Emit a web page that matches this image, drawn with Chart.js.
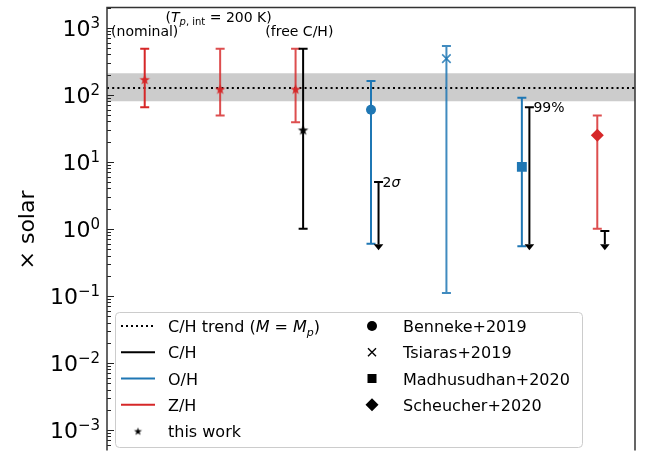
<!DOCTYPE html>
<html>
<head>
<meta charset="utf-8">
<script src="https://cdn.jsdelivr.net/npm/chart.js@4.4.0/dist/chart.umd.min.js"></script>
<style>
    html, body { margin: 0; padding: 0; background: #fff; overflow: hidden; }
</style>
</head>
<body>
<canvas id="chart" width="648" height="456"></canvas>
<script>
// ============= DATA =============
const xMin = 0, xMax = 7;
const yMin = 5.3e-4, yMax = 2000;
const yTickExponents = [-3, -2, -1, 0, 1, 2, 3];

// C/H trend for M = Mp, with its spread
const trendCH = 126;
const trendLo = 80;
const trendHi = 210;

// this work, Z/H: nominal, Tp,int = 200 K, free C/H
const workZX = [0.5, 1.5, 2.5];
const workZ = [170, 122, 122];
const workZLo = [65, 49, 39];
const workZHi = [485, 485, 485];

// this work, C/H (free C/H)
const workCX = [2.6];
const workC = [30];
const workCLo = [1];
const workCHi = [485];

// O/H: Benneke+2019, Tsiaras+2019, Madhusudhan+2020
const litOX = [3.5, 4.5, 5.5];
const litO = [60, 347, 8.4];
const litOLo = [0.6, 0.11, 0.55];
const litOHi = [160, 535, 90];

// Z/H: Scheucher+2020
const litZX = [6.5];
const litZ = [25];
const litZLo = [1];
const litZHi = [49];

// C/H upper limits: Benneke+2019, Madhusudhan+2020, Scheucher+2020
const limCX = [3.6, 5.6, 6.6];
const limCTop = [5, 65, 0.93];
const limCEnd = [0.55, 0.55, 0.55];
const limCLabels = ['2σ', '99%', ''];

// ============= STYLE =============
const BLACK = '#000000';
const BLUE = '#1f77b4';
const RED = '#d62728';
const RED_SOFT = 'rgba(214, 39, 40, 0.82)';
const BLUE_SOFT = 'rgba(31, 119, 180, 0.85)';
const FAM = '"DejaVu Sans", sans-serif';

function font(size, italic) {
    return (italic ? 'italic ' : '') + size + 'px ' + FAM;
}

function starImage(color, r) {
    const c = document.createElement('canvas');
    const s = Math.ceil(r * 2 + 2);
    c.width = s;
    c.height = s;
    const g = c.getContext('2d');
    g.fillStyle = color;
    g.beginPath();
    for (let i = 0; i < 10; i++) {
        const rr = i % 2 ? r * 0.4 : r;
        const a = -Math.PI / 2 + i * Math.PI / 5;
        g.lineTo(s / 2 + rr * Math.cos(a), s / 2 + 0.6 + rr * Math.sin(a));
    }
    g.closePath();
    g.fill();
    return c;
}

const starRed = starImage(RED, 5.5);
const starBlack = starImage(BLACK, 5.5);
const starLegend = starImage(BLACK, 4.2);

const pts = (xs, ys) => xs.map((x, i) => ({ x: x, y: ys[i] }));

// ============= TEXT HELPERS =============
function runsWidth(ctx, runs) {
    let w = 0;
    runs.forEach(r => { ctx.font = r.f; w += ctx.measureText(r.t).width; });
    return w;
}

function drawRuns(ctx, runs, x, y, align) {
    const w = runsWidth(ctx, runs);
    let cx = align === 'center' ? x - w / 2 : align === 'right' ? x - w : x;
    ctx.textAlign = 'left';
    ctx.textBaseline = 'alphabetic';
    runs.forEach(r => {
        ctx.font = r.f;
        ctx.fillText(r.t, cx, y + (r.dy || 0));
        cx += ctx.measureText(r.t).width;
    });
}

// ============= ERROR BARS =============
function errorBar(ctx, sx, sy, x, lo, hi, color) {
    const px = sx.getPixelForValue(x);
    const pLo = sy.getPixelForValue(lo);
    const pHi = sy.getPixelForValue(hi);
    ctx.strokeStyle = color;
    ctx.lineWidth = 2;
    ctx.beginPath();
    ctx.moveTo(px, pLo);
    ctx.lineTo(px, pHi);
    ctx.moveTo(px - 4.5, pLo);
    ctx.lineTo(px + 4.5, pLo);
    ctx.moveTo(px - 4.5, pHi);
    ctx.lineTo(px + 4.5, pHi);
    ctx.stroke();
}

function upperLimit(ctx, sx, sy, x, top, end, color) {
    const px = sx.getPixelForValue(x);
    const pTop = sy.getPixelForValue(top);
    const pEnd = sy.getPixelForValue(end);
    ctx.strokeStyle = color;
    ctx.fillStyle = color;
    ctx.lineWidth = 2;
    ctx.beginPath();
    ctx.moveTo(px - 4.5, pTop);
    ctx.lineTo(px + 4.5, pTop);
    ctx.moveTo(px, pTop);
    ctx.lineTo(px, pEnd - 2);
    ctx.stroke();
    ctx.beginPath();
    ctx.moveTo(px - 4.8, pEnd - 2);
    ctx.lineTo(px + 4.8, pEnd - 2);
    ctx.lineTo(px, pEnd + 4);
    ctx.closePath();
    ctx.fill();
}

const errorBarPlugin = {
    id: 'errorBars',
    afterDatasetDraw(chart, args) {
        if (args.index !== 1) return;
        const ctx = chart.ctx;
        const sx = chart.scales.x;
        const sy = chart.scales.y;
        ctx.save();
        workZX.forEach((x, i) => errorBar(ctx, sx, sy, x, workZLo[i], workZHi[i], i === 0 ? RED : RED_SOFT));
        workCX.forEach((x, i) => errorBar(ctx, sx, sy, x, workCLo[i], workCHi[i], BLACK));
        litOX.forEach((x, i) => errorBar(ctx, sx, sy, x, litOLo[i], litOHi[i], i === 1 ? BLUE_SOFT : BLUE));
        litZX.forEach((x, i) => errorBar(ctx, sx, sy, x, litZLo[i], litZHi[i], RED_SOFT));
        limCX.forEach((x, i) => upperLimit(ctx, sx, sy, x, limCTop[i], limCEnd[i], BLACK));
        ctx.restore();
    }
};

// ============= FRAME, TICKS, TEXT, LEGEND =============
function legendMarker(ctx, kind, x, y) {
    ctx.fillStyle = BLACK;
    ctx.strokeStyle = BLACK;
    ctx.beginPath();
    if (kind === 'circle') {
        ctx.arc(x, y, 5, 0, Math.PI * 2);
        ctx.fill();
    } else if (kind === 'cross') {
        ctx.lineWidth = 1.4;
        ctx.moveTo(x - 4, y - 4); ctx.lineTo(x + 4, y + 4);
        ctx.moveTo(x - 4, y + 4); ctx.lineTo(x + 4, y - 4);
        ctx.stroke();
    } else if (kind === 'square') {
        ctx.fillRect(x - 4.5, y - 4.5, 9, 9);
    } else if (kind === 'diamond') {
        ctx.moveTo(x, y - 6.5); ctx.lineTo(x + 6.5, y);
        ctx.lineTo(x, y + 6.5); ctx.lineTo(x - 6.5, y);
        ctx.closePath();
        ctx.fill();
    }
}

const decorPlugin = {
    id: 'decor',
    afterDraw(chart) {
        const ctx = chart.ctx;
        const a = chart.chartArea;
        const sx = chart.scales.x;
        const sy = chart.scales.y;
        ctx.save();

        // inward y ticks
        ctx.strokeStyle = '#222';
        ctx.lineWidth = 1;
        ctx.beginPath();
        for (let e = -4; e <= 3; e++) {
            for (let k = 1; k <= 9; k++) {
                const v = k * Math.pow(10, e);
                if (v < yMin || v > yMax) continue;
                const py = Math.round(sy.getPixelForValue(v)) + 0.5;
                ctx.moveTo(a.left, py);
                ctx.lineTo(a.left + (k === 1 ? 7 : 4), py);
            }
        }
        ctx.stroke();

        // frame (bottom is outside the picture)
        ctx.strokeStyle = '#333';
        ctx.lineWidth = 1.5;
        ctx.beginPath();
        ctx.moveTo(a.left, a.bottom + 2);
        ctx.lineTo(a.left, a.top);
        ctx.lineTo(a.right, a.top);
        ctx.lineTo(a.right, a.bottom + 2);
        ctx.stroke();

        // tick labels
        ctx.fillStyle = BLACK;
        yTickExponents.forEach(e => {
            const py = sy.getPixelForValue(Math.pow(10, e));
            const exp = e < 0 ? '\u2212' + (-e) : String(e);
            drawRuns(ctx, [
                { t: '10', f: font(22) },
                { t: exp, f: font(15), dy: -7.5 }
            ], 100, py + 8, 'right');
        });

        // axis label
        ctx.save();
        ctx.translate(34, 230);
        ctx.rotate(-Math.PI / 2);
        ctx.font = font(22);
        ctx.textAlign = 'center';
        ctx.textBaseline = 'alphabetic';
        ctx.fillText('\u00d7 solar', 0, 0);
        ctx.restore();

        // annotations above the points
        const f14 = font(14);
        drawRuns(ctx, [{ t: '(nominal)', f: f14 }], sx.getPixelForValue(0.5), 36, 'center');
        drawRuns(ctx, [
            { t: '(', f: f14 },
            { t: 'T', f: font(14, true) },
            { t: 'p', f: font(10, true), dy: 3 },
            { t: ', int', f: font(10), dy: 3 },
            { t: ' = 200 K)', f: f14 }
        ], sx.getPixelForValue(1.48), 22, 'center');
        drawRuns(ctx, [{ t: '(free C/H)', f: f14 }], sx.getPixelForValue(2.55), 36, 'center');

        // limit labels
        limCX.forEach((x, i) => {
            if (!limCLabels[i]) return;
            const px = sx.getPixelForValue(x) + 4;
            const py = sy.getPixelForValue(limCTop[i]) + 5;
            const label = limCLabels[i];
            const runs = label === '2σ'
                ? [{ t: '2', f: f14 }, { t: 'σ', f: font(14, true) }]
                : [{ t: label, f: f14 }];
            drawRuns(ctx, runs, px, py, 'left');
        });

        // legend
        const lx = 115, ly = 312, lw = 467, lh = 135;
        ctx.fillStyle = 'rgba(255,255,255,0.85)';
        ctx.strokeStyle = '#cccccc';
        ctx.lineWidth = 1;
        ctx.beginPath();
        ctx.roundRect(lx + 0.5, ly + 0.5, lw, lh, 4);
        ctx.fill();
        ctx.stroke();

        const rowY = i => 326 + i * 26.25;
        const f16 = font(16);
        const handle = (y, color, dash) => {
            ctx.save();
            ctx.strokeStyle = color;
            ctx.lineWidth = 2;
            ctx.setLineDash(dash || []);
            ctx.beginPath();
            ctx.moveTo(121, y);
            ctx.lineTo(155, y);
            ctx.stroke();
            ctx.restore();
        };
        handle(rowY(0), BLACK, [2, 3]);
        handle(rowY(1), BLACK);
        handle(rowY(2), BLUE);
        handle(rowY(3), RED);
        ctx.drawImage(starLegend, 138 - starLegend.width / 2, rowY(4) - starLegend.height / 2);

        ctx.fillStyle = BLACK;
        drawRuns(ctx, [
            { t: 'C/H trend (', f: f16 },
            { t: 'M', f: font(16, true) },
            { t: ' = ', f: f16 },
            { t: 'M', f: font(16, true) },
            { t: 'p', f: font(11, true), dy: 3.5 },
            { t: ')', f: f16 }
        ], 168, rowY(0) + 6, 'left');
        ['C/H', 'O/H', 'Z/H', 'this work'].forEach((t, i) => {
            drawRuns(ctx, [{ t: t, f: f16 }], 168, rowY(i + 1) + 6, 'left');
        });

        const refs = ['Benneke+2019', 'Tsiaras+2019', 'Madhusudhan+2020', 'Scheucher+2020'];
        const kinds = ['circle', 'cross', 'square', 'diamond'];
        refs.forEach((t, i) => {
            legendMarker(ctx, kinds[i], 372, rowY(i));
            ctx.fillStyle = BLACK;
            drawRuns(ctx, [{ t: t, f: f16 }], 403, rowY(i) + 6, 'left');
        });

        ctx.restore();
    }
};

// ============= CHART =============
const lineAt = v => [{ x: xMin, y: v }, { x: xMax, y: v }];

new Chart(document.getElementById('chart'), {
    type: 'scatter',
    data: {
        datasets: [
            {
                type: 'line',
                data: lineAt(trendHi),
                fill: { value: trendLo },
                backgroundColor: '#cccccc',
                borderWidth: 0,
                pointRadius: 0,
                order: 10
            },
            {
                type: 'line',
                data: lineAt(trendCH),
                borderColor: BLACK,
                borderWidth: 2,
                borderDash: [2, 3.2],
                pointRadius: 0,
                fill: false,
                order: 9
            },
            {
                data: pts(workZX, workZ),
                pointStyle: starRed,
                pointRadius: 6,
                order: 0
            },
            {
                data: pts(workCX, workC),
                pointStyle: starBlack,
                pointRadius: 6,
                order: 0
            },
            {
                data: pts(litOX.slice(0, 1), litO.slice(0, 1)),
                pointStyle: 'circle',
                pointRadius: 5,
                backgroundColor: BLUE,
                borderColor: BLUE,
                borderWidth: 0,
                order: 0
            },
            {
                data: pts(litOX.slice(1, 2), litO.slice(1, 2)),
                pointStyle: 'crossRot',
                pointRadius: 6,
                borderColor: BLUE_SOFT,
                borderWidth: 1.6,
                order: 0
            },
            {
                data: pts(litOX.slice(2, 3), litO.slice(2, 3)),
                pointStyle: 'rect',
                pointRadius: 7,
                backgroundColor: BLUE,
                borderColor: BLUE,
                borderWidth: 0,
                order: 0
            },
            {
                data: pts(litZX, litZ),
                pointStyle: 'rectRot',
                pointRadius: 6.5,
                backgroundColor: RED,
                borderColor: RED,
                borderWidth: 0,
                order: 0
            }
        ]
    },
    options: {
        responsive: false,
        animation: false,
        devicePixelRatio: 1,
        events: [],
        layout: { padding: { left: 107, right: 13, top: 5, bottom: 0 } },
        plugins: {
            legend: { display: false },
            tooltip: { enabled: false }
        },
        scales: {
            x: { type: 'linear', min: xMin, max: xMax, display: false },
            y: { type: 'logarithmic', min: yMin, max: yMax, display: false }
        }
    },
    plugins: [errorBarPlugin, decorPlugin]
});
</script>
</body>
</html>
